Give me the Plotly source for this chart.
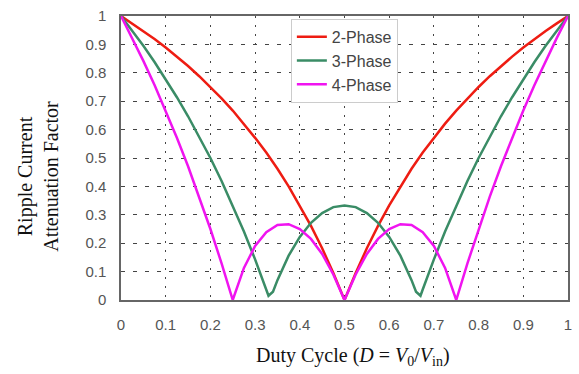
import plotly.graph_objects as go

# Duty cycle samples
duty = [0.000, 0.025, 0.050, 0.075, 0.100, 0.125, 0.150, 0.175, 0.200, 0.225,
        0.250, 0.275, 0.300, 0.325, 0.350, 0.375, 0.400, 0.425, 0.450, 0.475,
        0.500, 0.525, 0.550, 0.575, 0.600, 0.625, 0.650, 0.675, 0.700, 0.725,
        0.750, 0.775, 0.800, 0.825, 0.850, 0.875, 0.900, 0.925, 0.950, 0.975, 1.000]

phase2 = [1.000, 0.974, 0.947, 0.919, 0.889, 0.857, 0.824, 0.788, 0.750, 0.710,
          0.667, 0.621, 0.571, 0.519, 0.462, 0.400, 0.333, 0.261, 0.182, 0.095,
          0.000, 0.095, 0.182, 0.261, 0.333, 0.400, 0.462, 0.519, 0.571, 0.621,
          0.667, 0.710, 0.750, 0.788, 0.824, 0.857, 0.889, 0.919, 0.947, 0.974, 1.000]

phase4 = [1.000, 0.923, 0.842, 0.757, 0.667, 0.571, 0.471, 0.364, 0.250, 0.129,
          0.000, 0.113, 0.190, 0.239, 0.264, 0.267, 0.250, 0.215, 0.162, 0.090,
          0.000, 0.090, 0.162, 0.215, 0.250, 0.267, 0.264, 0.239, 0.190, 0.113,
          0.000, 0.129, 0.250, 0.364, 0.471, 0.571, 0.667, 0.757, 0.842, 0.923, 1.000]

duty3 = [0.000, 0.025, 0.050, 0.075, 0.100, 0.125, 0.150, 0.175, 0.200, 0.225,
         0.250, 0.275, 0.300, 0.325, 0.330, 0.340, 0.350, 0.375, 0.400, 0.425,
         0.450, 0.475, 0.500, 0.525, 0.550, 0.575, 0.600, 0.625, 0.650, 0.660,
         0.670, 0.675, 0.700, 0.725, 0.750, 0.775, 0.800, 0.825, 0.850, 0.875,
         0.900, 0.925, 0.950, 0.975, 1.000]

phase3 = [1.000, 0.949, 0.895, 0.838, 0.778, 0.714, 0.647, 0.576, 0.500, 0.419,
          0.333, 0.241, 0.143, 0.037, 0.015, 0.029, 0.070, 0.156, 0.222, 0.272,
          0.306, 0.327, 0.333, 0.327, 0.306, 0.272, 0.222, 0.156, 0.070, 0.029,
          0.015, 0.037, 0.143, 0.241, 0.333, 0.419, 0.500, 0.576, 0.647, 0.714,
          0.778, 0.838, 0.895, 0.949, 1.000]

tick_vals = [0, 0.1, 0.2, 0.3, 0.4, 0.5, 0.6, 0.7, 0.8, 0.9, 1]
tick_text = ["0", "0.1", "0.2", "0.3", "0.4", "0.5", "0.6", "0.7", "0.8", "0.9", "1"]

fig = go.Figure()
fig.add_trace(go.Scatter(x=duty, y=phase2, mode="lines", name="2-Phase",
                         line=dict(color="#ee1c12", width=2.5)))
fig.add_trace(go.Scatter(x=duty3, y=phase3, mode="lines", name="3-Phase",
                         line=dict(color="#3a8c66", width=2.5)))
fig.add_trace(go.Scatter(x=duty, y=phase4, mode="lines", name="4-Phase",
                         line=dict(color="#f014f0", width=2.5)))

axis_common = dict(
    range=[0, 1], tickvals=tick_vals, ticktext=tick_text,
    showline=True, linecolor="#666666", linewidth=1.5, mirror=True,
    showgrid=True, gridcolor="#444444", gridwidth=1,
    zeroline=False, ticks="", ticklabelstandoff=10,
    tickfont=dict(family="Liberation Sans, Arial", size=15, color="#555555"),
)

fig.update_xaxes(**axis_common, griddash="2px,7px")
fig.update_yaxes(**axis_common, griddash="4px,8px")

fig.update_layout(
    width=579, height=374,
    margin=dict(l=121, r=7, t=16, b=74),
    paper_bgcolor="white", plot_bgcolor="white",
    showlegend=True,
    legend=dict(x=0.38, y=0.99, xanchor="left", yanchor="top",
                bgcolor="white", bordercolor="#cccccc", borderwidth=1,
                font=dict(family="Liberation Sans, Arial", size=16, color="#444444"),
                tracegroupgap=0, itemwidth=30),
    annotations=[
        dict(text="Duty Cycle (<i>D</i> = <i>V</i><sub>0</sub>/<i>V</i><sub>in</sub>)",
             x=0.52, y=-0.2, xref="paper", yref="paper", xanchor="center", yanchor="middle",
             showarrow=False,
             font=dict(family="Liberation Serif, Times New Roman", size=20, color="#111111")),
        dict(text="Ripple Current<br>Attenuation Factor",
             x=-0.185, y=0.435, xref="paper", yref="paper", xanchor="center", yanchor="middle",
             showarrow=False, textangle=-90,
             font=dict(family="Liberation Serif, Times New Roman", size=20, color="#111111")),
    ],
)

fig.write_html("out.html")
